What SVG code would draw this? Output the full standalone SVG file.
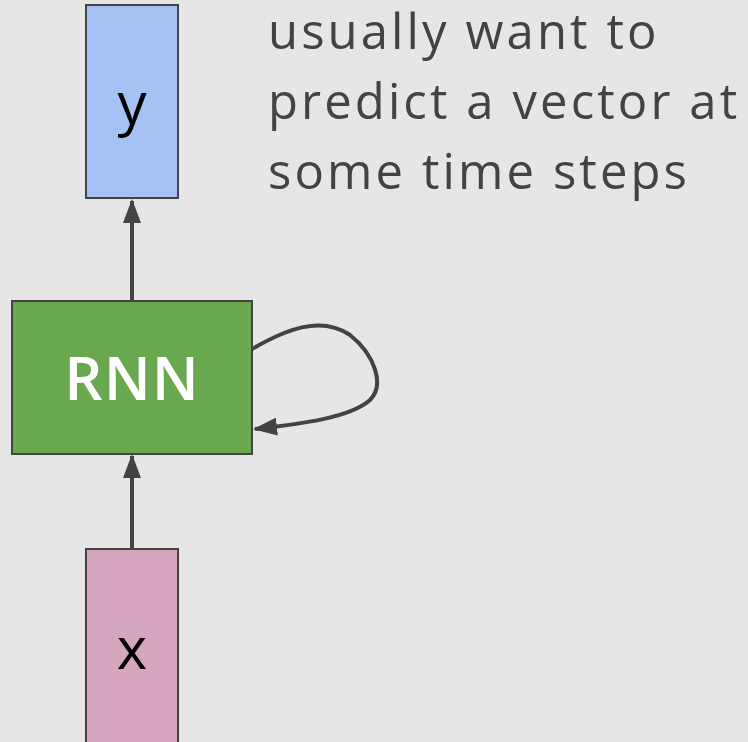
<svg xmlns="http://www.w3.org/2000/svg" width="748" height="742" viewBox="0 0 748 742">
  <style>
    .box { stroke: #434343; stroke-width: 2; }
    .edge { fill: none; stroke: #434343; stroke-width: 4; }
    .lbl { font-family: "Open Sans", "Liberation Sans", sans-serif; text-anchor: middle; }
    .note { font-family: "Open Sans", "Liberation Sans", sans-serif; font-size: 49px; letter-spacing: 3.1px; fill: #434343; }
  </style>
  <defs>
    <marker id="arrow" markerUnits="userSpaceOnUse" markerWidth="24" markerHeight="18" refX="22" refY="9" orient="auto">
      <path d="M0,0 L24,9 L0,18 Z" fill="#434343"/>
    </marker>
  </defs>
  <rect width="748" height="742" fill="#e6e6e6"/>

  <g id="connectors">
    <line class="edge" x1="132" y1="300" x2="132" y2="201" marker-end="url(#arrow)"/>
    <line class="edge" x1="132" y1="549" x2="132" y2="456" marker-end="url(#arrow)"/>
    <path class="edge" d="M252,349 C285,330 320,315 350,335 C375,355 385,385 370,400 C350,418 300,424 255,429" marker-end="url(#arrow)"/>
  </g>

  <g id="node-y">
    <rect class="box" x="86" y="5" width="92" height="193" fill="#a4c2f4"/>
    <text class="lbl" x="132" y="124" font-size="58" fill="#000">y</text>
  </g>

  <g id="node-rnn">
    <rect class="box" x="12" y="301" width="240" height="153" fill="#6aa84f"/>
    <text class="lbl" x="132" y="400" font-size="60" font-weight="600" letter-spacing="1" fill="#ffffff">RNN</text>
  </g>

  <g id="node-x">
    <rect class="box" x="86" y="549" width="92" height="200" fill="#d5a6bd"/>
    <text class="lbl" x="132" y="669" font-size="58" fill="#000">x</text>
  </g>

  <g id="note">
    <text class="note" x="268" y="49">usually want to</text>
    <text class="note" x="268" y="119">predict a vector at</text>
    <text class="note" x="268" y="189">some time steps</text>
  </g>
</svg>
